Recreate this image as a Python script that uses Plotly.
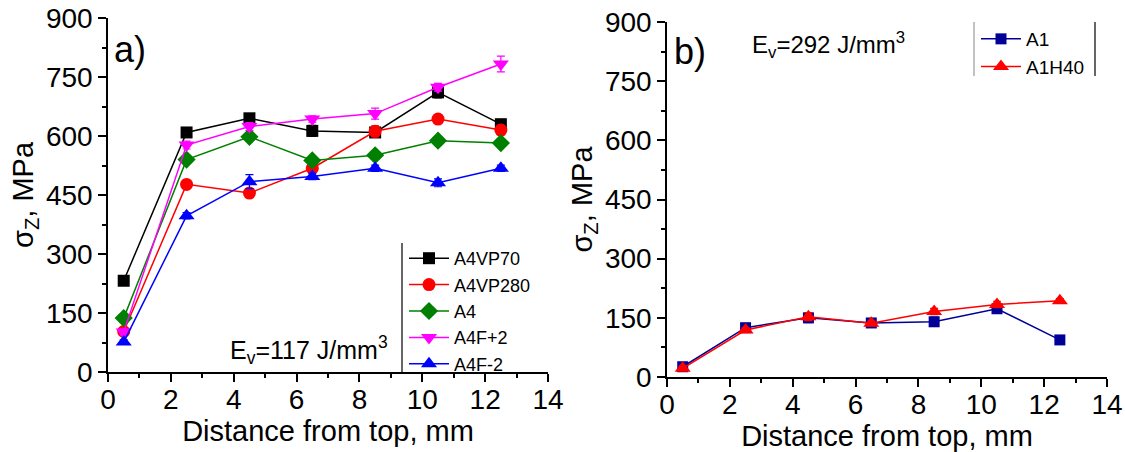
import plotly.graph_objects as go

W, H = 1125, 452
FONT = "Liberation Sans, Arial, sans-serif"

x_pos = [0.5, 2.5, 4.5, 6.5, 8.5, 10.5, 12.5]

# Panel a)
a4vp70 = [232, 609, 645, 613, 609, 711, 630]
a4vp70_err = [12, 10, 8, 14, 8, 14, 12]
a4vp280 = [103, 477, 455, 518, 612, 643, 615]
a4vp280_err = [8, 8, 8, 10, 14, 8, 12]
a4 = [137, 540, 598, 538, 551, 588, 582]
a4_err = [10, 8, 8, 8, 10, 8, 8]
a4fp2 = [102, 577, 624, 643, 657, 724, 783]
a4fp2_err = [8, 10, 10, 8, 14, 10, 20]
a4fm2 = [76, 397, 484, 497, 518, 481, 518]
a4fm2_err = [6, 8, 18, 8, 8, 10, 8]

# Panel b)
a1 = [26, 125, 150, 137, 140, 173, 94]
a1_err = [8, 10, 12, 10, 12, 10, 4]
a1h40 = [22, 119, 153, 136, 166, 184, 193]
a1h40_err = [6, 6, 10, 6, 8, 8, 6]

x_ticks = [0, 2, 4, 6, 8, 10, 12, 14]
y_ticks = [0, 150, 300, 450, 600, 750, 900]

fig = go.Figure()

def add(y, err, name, color, symbol, size, xa, ya, legend):
    fig.add_trace(go.Scatter(
        x=x_pos, y=y, name=name, mode="lines+markers",
        line=dict(color=color, width=1.5),
        marker=dict(color=color, symbol=symbol, size=size),
        error_y=dict(type="data", array=err, color=color, thickness=1.2, width=4),
        xaxis=xa, yaxis=ya, legend=legend))

add(a4vp70, a4vp70_err, "A4VP70", "black", "square", 12, "x", "y", "legend")
add(a4vp280, a4vp280_err, "A4VP280", "#ff0000", "circle", 13, "x", "y", "legend")
add(a4, a4_err, "A4", "#008000", "diamond", 14, "x", "y", "legend")
add(a4fp2, a4fp2_err, "A4F+2", "#ff00ff", "triangle-down", 14, "x", "y", "legend")
add(a4fm2, a4fm2_err, "A4F-2", "#0000ff", "triangle-up", 14, "x", "y", "legend")
add(a1, a1_err, "A1", "#000099", "square", 11, "x2", "y2", "legend2")
add(a1h40, a1h40_err, "A1H40", "#ff0000", "triangle-up", 14, "x2", "y2", "legend2")

tickfont = dict(family=FONT, size=28, color="black")
titlefont = dict(family=FONT, size=29, color="black")

def xax(domain, anchor):
    return dict(domain=domain, anchor=anchor, range=[0, 14], tickvals=x_ticks, automargin=False,
                ticks="outside", ticklen=8, tickwidth=1.5, tickcolor="black",
                showline=True, linecolor="black", linewidth=1.5, showgrid=False,
                zeroline=False, tickfont=tickfont, ticklabelstandoff=-6,
                minor=dict(ticks="outside", ticklen=4, dtick=1, tickcolor="black", tickwidth=1.5),
                title=dict(text="Distance from top, mm", font=titlefont, standoff=0))

def yax(domain, anchor):
    return dict(domain=domain, anchor=anchor, range=[0, 900], tickvals=y_ticks, automargin=False,
                ticks="outside", ticklen=8, tickwidth=1.5, tickcolor="black",
                showline=True, linecolor="black", linewidth=1.5, showgrid=False,
                zeroline=False, tickfont=tickfont,
                minor=dict(ticks="outside", ticklen=4, dtick=75, tickcolor="black", tickwidth=1.5),
                title=dict(text="σ<sub>Z</sub>, MPa", font=titlefont, standoff=4))

def xtop(domain, anchor, over):
    return dict(domain=domain, anchor=anchor, overlaying=over, side="top", range=[0, 14],
                automargin=False,
                tickvals=x_ticks, ticks="inside", ticklen=8, tickwidth=1.5, tickcolor="black",
                showline=True, linecolor="black", linewidth=1.5, showgrid=False,
                zeroline=False, showticklabels=False,
                minor=dict(ticks="inside", ticklen=4, dtick=1, tickcolor="black", tickwidth=1.5))

def yright(domain, anchor, over):
    return dict(domain=domain, anchor=anchor, overlaying=over, side="right", range=[0, 900],
                automargin=False,
                tickvals=y_ticks, ticks="inside", ticklen=8, tickwidth=1.5, tickcolor="black",
                showline=True, linecolor="black", linewidth=1.5, showgrid=False,
                zeroline=False, showticklabels=False,
                minor=dict(ticks="inside", ticklen=4, dtick=75, tickcolor="black", tickwidth=1.5))

dxa = [108 / W, 548 / W]
dya = [(H - 372) / H, (H - 18) / H]
dxb = [667 / W, 1107 / W]
dyb = [(H - 377) / H, (H - 22) / H]

fig.update_layout(
    width=W, height=H,
    margin=dict(l=0, r=0, t=0, b=0, autoexpand=False),
    paper_bgcolor="white", plot_bgcolor="white",
    font=dict(family=FONT, color="black"),
    xaxis=xax(dxa, "y"), yaxis=yax(dya, "x"),
    xaxis2=xax(dxb, "y2"), yaxis2=yax(dyb, "x2"),
    xaxis3=xtop(dxa, "y", "x"), yaxis3=yright(dya, "x", "y"),
    xaxis4=xtop(dxb, "y2", "x2"), yaxis4=yright(dyb, "x2", "y2"),
    legend=dict(x=404 / W, y=(H - 240) / H, xanchor="left", yanchor="top",
                font=dict(family=FONT, size=18, color="black"),
                bgcolor="rgba(0,0,0,0)", tracegroupgap=0, itemwidth=40),
    legend2=dict(x=976 / W, y=(H - 20) / H, xanchor="left", yanchor="top",
                 font=dict(family=FONT, size=19, color="black"),
                 bgcolor="rgba(0,0,0,0)", tracegroupgap=0, itemwidth=40),
    showlegend=True,
)

fig.add_annotation(xref="paper", yref="paper", x=112 / W, y=(H - 50) / H, xanchor="left",
                   yanchor="middle", text="a)", showarrow=False,
                   font=dict(family=FONT, size=36, color="black"))
fig.add_annotation(xref="paper", yref="paper", x=672 / W, y=(H - 52) / H, xanchor="left",
                   yanchor="middle", text="b)", showarrow=False,
                   font=dict(family=FONT, size=36, color="black"))
fig.add_annotation(xref="paper", yref="paper", x=228 / W, y=(H - 350) / H, xanchor="left",
                   yanchor="middle", text="E<sub>v</sub>=117 J/mm<sup>3</sup>", showarrow=False,
                   font=dict(family=FONT, size=25, color="black"))
fig.add_annotation(xref="paper", yref="paper", x=750 / W, y=(H - 45) / H, xanchor="left",
                   yanchor="middle", text="E<sub>v</sub>=292 J/mm<sup>3</sup>", showarrow=False,
                   font=dict(family=FONT, size=24, color="black"))

# legend frame edges
for x0, y0, y1, col in [(402, 243, 372, "black"), (974, 22, 76, "#999999"), (1095, 22, 76, "black")]:
    fig.add_shape(type="line", xref="paper", yref="paper",
                  x0=x0 / W, x1=x0 / W, y0=(H - y0) / H, y1=(H - y1) / H,
                  line=dict(color=col, width=1.2))

fig.write_html("out.html", config={"displayModeBar": False},
               post_script="document.body.style.margin='0px';document.body.style.padding='0px';")
